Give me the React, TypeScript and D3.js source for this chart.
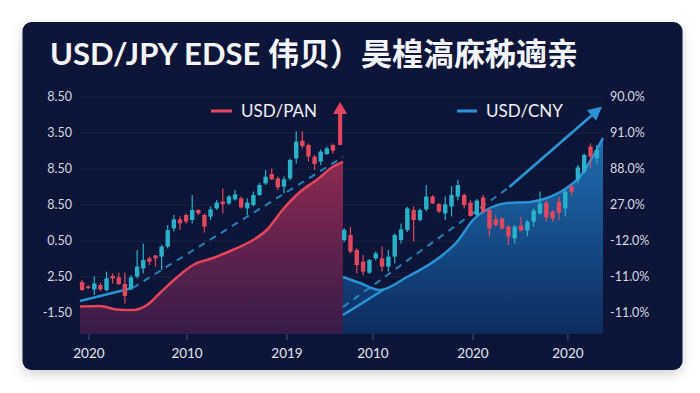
import * as d3 from 'd3';

// axis text (as printed on the chart)
const leftTickLabels = ['8.50', '3.50', '8.50', '8.50', '0.50', '2.50', '-1.50'];
const rightTickLabels = ['90.0%', '91.0%', '88.0%', '27.0%', '-12.0%', '-11.0%', '-11.0%'];
const tickValues = [118.5, 100.5, 82.5, 64.5, 46.5, 28.5, 10.5];

const leftYears = ['2020', '2010', '2019'];
const leftYearPos = [3.4, 40.7, 78.7];
const rightYears = ['2010', '2020', '2020'];
const rightYearPos = [11.5, 50, 86.5];

// candles: [open, high, low, close]
const leftCandles: number[][] = [
  [26, 27, 21.5, 22], [23.7, 24.5, 22.5, 23], [22.3, 28.7, 19.5, 25.3], [24.5, 25.5, 21.5, 22.3],
  [22, 31.2, 21.2, 27.8], [29, 30.3, 25.3, 27.8], [28.3, 30.7, 24.5, 25], [25, 30.7, 15.3, 19],
  [22.8, 29.5, 22, 28.3], [28.7, 42, 27.8, 33.7], [32.8, 45.3, 30.3, 37], [37.8, 38.7, 34.5, 36.2],
  [39.2, 39.5, 33.7, 37.8], [38.7, 44.5, 32, 43.7], [43.7, 54.5, 42.8, 52], [52.8, 59.5, 51.2, 57.3],
  [57.3, 58.7, 52, 55.3], [59.5, 60.3, 55.3, 56.2], [57, 69.5, 55.3, 62], [62, 62.5, 59.5, 60.3],
  [59.5, 60.3, 50.7, 53.7], [58.7, 63.7, 57, 62.3], [62.8, 67, 62, 65.7], [66.2, 72.8, 60.3, 65],
  [65.3, 69.5, 64.5, 68.7], [67.3, 72, 66.7, 69.8], [67.8, 68.7, 62.8, 63.3], [62.8, 67.8, 59.5, 65.7],
  [64.5, 71.2, 63.7, 69.5], [69.5, 75.5, 69, 74.5], [75.3, 82, 74.5, 78.7], [80, 82.8, 77, 77.3],
  [77.8, 78.7, 72, 73.3], [73.7, 78.7, 70.3, 77.3], [77.8, 87.8, 77, 87], [87.8, 101.2, 85.3, 96.2],
  [96.7, 101.2, 92.8, 94], [94.5, 95.3, 86.2, 88.7], [88.7, 89.5, 82, 85], [86.2, 92.3, 84.5, 91.2],
  [90, 93.7, 89.5, 92.8], [94.5, 95.3, 90.3, 91.7],
];
const rightCandles: number[][] = [
  [47, 53, 46, 52], [49.5, 53.7, 40.3, 41.2], [42, 42.8, 30.3, 34.5], [36.2, 39.5, 29.5, 31.2],
  [30.7, 37.5, 30, 37], [37.8, 41.2, 37, 40.3], [37.8, 43.7, 31.2, 33.7], [33.7, 42, 31.2, 38.7],
  [38.7, 50.3, 35.3, 49.5], [47, 55.3, 45.3, 52.3], [52, 63.5, 51, 62.8], [62, 63.7, 46.2, 57],
  [57, 62.8, 56.2, 62], [62.3, 74.5, 61.2, 68.7], [68.7, 69.5, 65, 65.3], [65, 65.5, 60.5, 61.2],
  [60.3, 68.7, 57, 64.8], [63.7, 74, 58.7, 69.5], [68.7, 77, 67, 74.5], [69.5, 70.3, 62.8, 64.5],
  [65.7, 67, 58.7, 59], [59.5, 67.5, 59, 66.7], [68.3, 69.5, 60.3, 61.2], [62, 62.8, 48.7, 52.8],
  [57.3, 59.5, 53.7, 54.5], [57.8, 58.3, 52, 52.8], [53.7, 54.5, 44.5, 48.7], [47.8, 54.5, 45.3, 53.7],
  [54.2, 58.7, 51.2, 51.7], [51.7, 57, 48.7, 56.2], [56.2, 62.8, 53.7, 61.7], [60.3, 71.2, 59.5, 65.3],
  [65.7, 66.7, 56.2, 58.3], [61.2, 62, 56.2, 57.8], [66.2, 68.7, 57, 60.7], [62.8, 72, 58.7, 71.2],
  [73.7, 74.5, 69.5, 71.2], [77, 84.5, 75.3, 83.3], [81.2, 90.3, 80.3, 89.5], [93.7, 95.3, 82.8, 88.7],
  [87.8, 94.5, 85.3, 92],
];

// smoothed trend curves: [t, value]
const panCurve: [number, number][] = [
  [0, 13.7], [7.6, 14], [14, 12.3], [20, 12], [25.5, 14.5], [30.4, 20.5], [37, 28.5], [43, 34.5],
  [50.6, 38], [58, 42], [65.8, 47], [71, 52], [77, 62], [83.6, 71], [90, 77], [96, 83.5], [100, 86],
];
const cnyCurve: [number, number][] = [
  [0, 28.5], [6.5, 25.5], [14.2, 22], [24.6, 28.5], [37.3, 38.5], [43.8, 46], [50, 57], [56.5, 63],
  [63, 65.5], [72, 66], [78.5, 68], [86, 73], [91, 78.5], [96, 88.5], [100, 98],
];
const leftTrendSolid: [number, number][] = [[0, 16.5], [20, 23]];
const leftTrendDashed: [number, number][] = [[20, 23], [100, 88.5]];
const rightTrendSolid: [number, number][] = [[0, 9.5], [15.4, 22]];
const rightTrendDashed: [number, number][] = [[0, 13.5], [64, 73.5]];
const rightArrow: [number, number][] = [[64, 73.5], [98.5, 112.5]];
const redArrow: [number, number][] = [[98.9, 94.5], [98.9, 116]];

const W = 700;
const H = 393;
const top = 94;
const bottom = 334;
const leftX0 = 80;
const midX = 343;
const rightX1 = 603;

const BG = '#0a1838';
const UP = '#2ab0c8';
const DOWN = '#e2485d';
const RED = '#e5455c';
const BLUE = '#2a93d4';

export default function App() {
  const y = d3.scaleLinear().domain([0, 120]).range([bottom, top]);
  const xl = d3.scaleLinear().domain([0, 100]).range([leftX0, midX]);
  const xr = d3.scaleLinear().domain([0, 100]).range([midX, rightX1]);
  const bl = d3.scaleBand<number>().domain(d3.range(leftCandles.length)).range([79, 336]);
  const br = d3.scaleBand<number>().domain(d3.range(rightCandles.length)).range([341, 600]);

  const lineL = d3.line<[number, number]>().x(d => xl(d[0])).y(d => y(d[1])).curve(d3.curveMonotoneX);
  const lineR = d3.line<[number, number]>().x(d => xr(d[0])).y(d => y(d[1])).curve(d3.curveMonotoneX);
  const areaL = d3.area<[number, number]>().x(d => xl(d[0])).y0(bottom).y1(d => y(d[1])).curve(d3.curveMonotoneX);
  const areaR = d3.area<[number, number]>().x(d => xr(d[0])).y0(bottom).y1(d => y(d[1])).curve(d3.curveMonotoneX);
  const straightR = d3.line<[number, number]>().x(d => xr(d[0])).y(d => y(d[1]));
  const straightL = d3.line<[number, number]>().x(d => xl(d[0])).y(d => y(d[1]));

  const candle = (c: number[], i: number, band: d3.ScaleBand<number>) => {
    const [o, h, l, cl] = c;
    const cx = (band(i) as number) + band.bandwidth() / 2;
    const col = cl >= o ? UP : DOWN;
    const yt = y(Math.max(o, cl));
    const yb = y(Math.min(o, cl));
    return (
      <g key={i}>
        <line x1={cx} x2={cx} y1={y(h)} y2={y(l)} stroke={col} strokeWidth={1.2} />
        <rect x={cx - 2.2} y={yt} width={4.4} height={Math.max(1.5, yb - yt)} fill={col} />
      </g>
    );
  };

  // arrow heads
  const ra0 = [xr(rightArrow[0][0]), y(rightArrow[0][1])];
  const ra1 = [xr(rightArrow[1][0]), y(rightArrow[1][1])];
  const ang = Math.atan2(ra1[1] - ra0[1], ra1[0] - ra0[0]);
  const hl = 14, hw = 7;
  const tip = [ra1[0] + Math.cos(ang) * 4, ra1[1] + Math.sin(ang) * 4];
  const baseC = [tip[0] - Math.cos(ang) * hl, tip[1] - Math.sin(ang) * hl];
  const headR = [
    tip,
    [baseC[0] - Math.sin(ang) * hw, baseC[1] + Math.cos(ang) * hw],
    [baseC[0] + Math.sin(ang) * hw, baseC[1] - Math.cos(ang) * hw],
  ].map(p => p.join(',')).join(' ');

  const rx = xl(redArrow[0][0]);
  const rTop = y(redArrow[1][1]);
  const headL = `${rx},${rTop} ${rx - 7},${rTop + 12} ${rx + 7},${rTop + 12}`;

  const sans = "Lato, 'Open Sans', 'Noto Sans CJK SC', sans-serif";

  return (
    <svg width={W} height={H} style={{ position: 'absolute', left: 0, top: 0, background: '#fff' }}>
      <defs>
        <filter id="sh" x="-10%" y="-10%" width="120%" height="130%">
          <feDropShadow dx="0" dy="4" stdDeviation="6" floodColor="#000" floodOpacity="0.18" />
        </filter>
        <linearGradient id="gRed" x1="0" y1="0" x2="0" y2="1">
          <stop offset="0" stopColor="#8c2a50" />
          <stop offset="1" stopColor="#361c48" />
        </linearGradient>
        <linearGradient id="gBlue" x1="0" y1="0" x2="0" y2="1">
          <stop offset="0" stopColor="#1f6db0" />
          <stop offset="1" stopColor="#0d2c60" />
        </linearGradient>
      </defs>

      <rect x={22.5} y={22} width={660} height={348} rx={9} fill={BG} filter="url(#sh)" />

      <text x={50} y={65} fill="#f4f5f8" fontFamily={sans} fontWeight={700} fontSize={31}>
        USD/JPY EDSE 伟贝）昊楻滈庥秭遖亲
      </text>

      {/* grid */}
      {tickValues.map((v, i) => (
        <line key={i} x1={leftX0} x2={rightX1} y1={y(v)} y2={y(v)} stroke="#ffffff" strokeOpacity={0.05} />
      ))}

      {/* areas */}
      <path d={areaL(panCurve) as string} fill="url(#gRed)" />
      <path d={areaR(cnyCurve) as string} fill="url(#gBlue)" />

      {/* trend lines */}
      <path d={straightL(leftTrendSolid) as string} stroke={BLUE} strokeWidth={2.5} fill="none" />
      <path d={straightL(leftTrendDashed) as string} stroke={BLUE} strokeWidth={2} strokeDasharray="7 6" fill="none" opacity={0.85} />
      <path d={straightR(rightTrendSolid) as string} stroke={BLUE} strokeWidth={2.5} fill="none" />
      <path d={straightR(rightTrendDashed) as string} stroke={BLUE} strokeWidth={2} strokeDasharray="7 6" fill="none" opacity={0.85} />
      <path d={straightR(rightArrow) as string} stroke={BLUE} strokeWidth={2.8} fill="none" />
      <polygon points={headR} fill={BLUE} />

      {/* curves */}
      <path d={lineL(panCurve) as string} stroke={RED} strokeWidth={2.5} fill="none" />
      <path d={lineR(cnyCurve) as string} stroke={BLUE} strokeWidth={2.5} fill="none" />

      {/* candles */}
      {leftCandles.map((c, i) => candle(c, i, bl))}
      {rightCandles.map((c, i) => candle(c, i, br))}

      {/* red arrow */}
      <line x1={rx} x2={rx} y1={y(redArrow[0][1])} y2={rTop + 10} stroke={RED} strokeWidth={4} />
      <polygon points={headL} fill={RED} />

      {/* legends */}
      <line x1={211} x2={232} y1={111} y2={111} stroke={RED} strokeWidth={3} />
      <text x={241} y={117} fill="#f0f2f6" fontFamily={sans} fontSize={17}>USD/PAN</text>
      <line x1={457} x2={477} y1={111} y2={111} stroke={BLUE} strokeWidth={3} />
      <text x={486} y={117} fill="#f0f2f6" fontFamily={sans} fontSize={17}>USD/CNY</text>

      {/* y labels */}
      {leftTickLabels.map((t, i) => (
        <text key={i} x={72} y={y(tickValues[i])} dy="0.35em" textAnchor="end" fill="#d5d9e2" fontFamily={sans} fontSize={12.5}>{t}</text>
      ))}
      {rightTickLabels.map((t, i) => (
        <text key={i} x={610} y={y(tickValues[i])} dy="0.35em" fill="#d5d9e2" fontFamily={sans} fontSize={12.5}>{t}</text>
      ))}

      {/* x ticks + labels */}
      {leftYears.map((t, i) => (
        <g key={'l' + i}>
          <line x1={xl(leftYearPos[i])} x2={xl(leftYearPos[i])} y1={bottom} y2={bottom + 6} stroke="#ffffff" strokeOpacity={0.25} />
          <text x={xl(leftYearPos[i])} y={358} textAnchor="middle" fill="#e3e6ee" fontFamily={sans} fontSize={13.5}>{t}</text>
        </g>
      ))}
      {rightYears.map((t, i) => (
        <g key={'r' + i}>
          <line x1={xr(rightYearPos[i])} x2={xr(rightYearPos[i])} y1={bottom} y2={bottom + 6} stroke="#ffffff" strokeOpacity={0.25} />
          <text x={xr(rightYearPos[i])} y={358} textAnchor="middle" fill="#e3e6ee" fontFamily={sans} fontSize={13.5}>{t}</text>
        </g>
      ))}
    </svg>
  );
}
